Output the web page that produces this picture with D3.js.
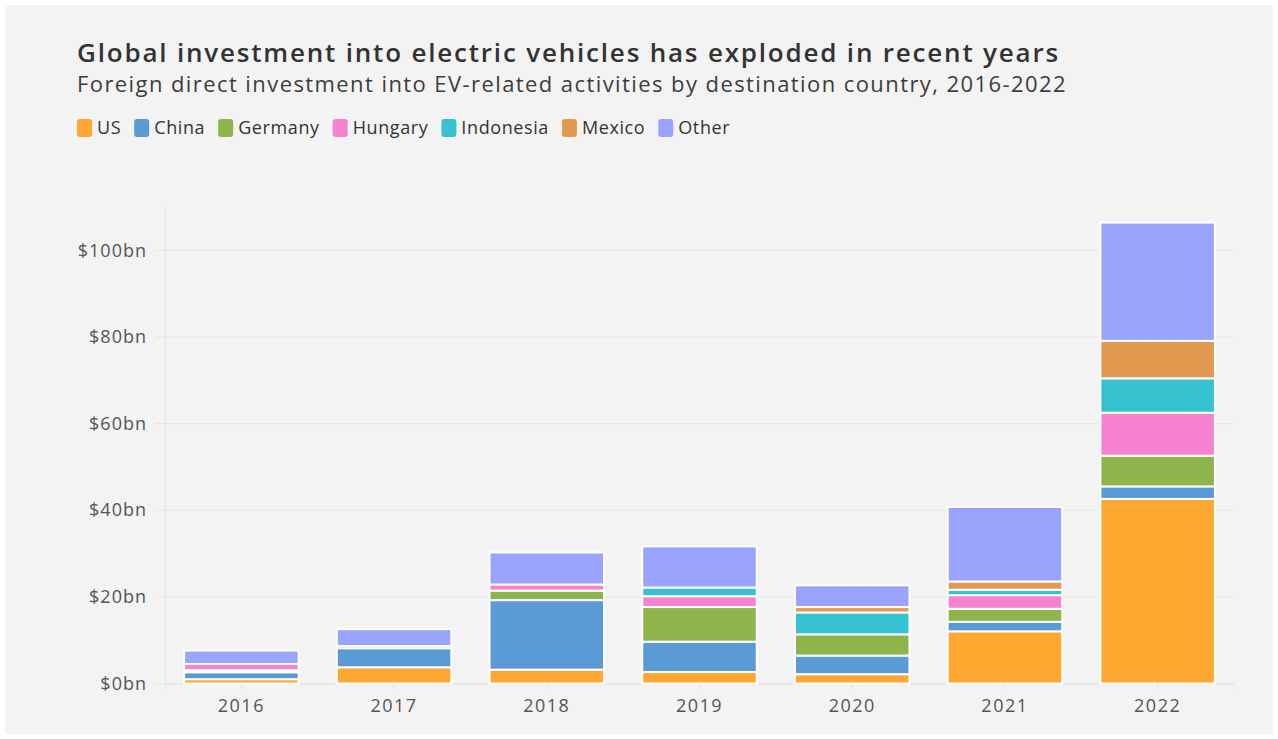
<!DOCTYPE html>
<html>

<head>
    <meta charset="utf-8">
    <title>EV investment</title>
    <script src="https://d3js.org/d3.v7.min.js"></script>
    <style>
        body {
            margin: 0;
            background: #ffffff;
        }

        text {
            font-family: "Open Sans", Arial, sans-serif;
        }
    </style>
</head>

<body>
    <svg width="1278" height="739"></svg>
    <script>
        // Data (US$ bn)
        var years = ["2016", "2017", "2018", "2019", "2020", "2021", "2022"];
        var us = [1.0, 3.75, 3.2, 2.65, 2.15, 12.05, 42.6];
        var china = [1.6, 4.4, 16.05, 7.0, 4.3, 2.2, 2.9];
        var germany = [0.45, 0.5, 2.2, 8.0, 4.9, 3.0, 7.1];
        var hungary = [1.45, 0, 1.4, 2.5, 0, 3.15, 9.9];
        var indonesia = [0, 0, 0, 2.0, 5.05, 1.25, 7.95];
        var mexico = [0, 0, 0, 0, 1.25, 1.9, 8.65];
        var other = [3.1, 3.9, 7.4, 9.5, 5.0, 17.2, 27.3];

        var seriesNames = ["US", "China", "Germany", "Hungary", "Indonesia", "Mexico", "Other"];
        var seriesColors = ["#fea831", "#5b9bd5", "#8fb44b", "#f782d0", "#36c2d0", "#e19a50", "#9aa4fc"];
        var yTicks = [0, 20, 40, 60, 80, 100];

        var seriesValues = [us, china, germany, hungary, indonesia, mexico, other];

        // build rows for the stack
        var rows = years.map(function (y, i) {
            var row = { year: y };
            seriesNames.forEach(function (s, j) { row[s] = seriesValues[j][i]; });
            return row;
        });

        var svg = d3.select("svg");

        // background panel
        svg.append("rect")
            .attr("x", 5).attr("y", 5)
            .attr("width", 1268).attr("height", 729)
            .attr("fill", "#f3f3f3");

        // stretch text to a target width with letter-spacing
        function fitText(sel, w) {
            var len = sel.node().getComputedTextLength();
            var n = sel.text().length;
            sel.attr("letter-spacing", (w - len) / n);
        }

        // Titles
        var title = svg.append("text")
            .attr("x", 77).attr("y", 62)
            .attr("font-size", 26)
            .attr("font-weight", 600)
            .attr("fill", "#333333")
            .text("Global investment into electric vehicles has exploded in recent years");
        fitText(title, 983);

        var subtitle = svg.append("text")
            .attr("x", 77).attr("y", 92)
            .attr("font-size", 22)
            .attr("fill", "#3d3d3d")
            .text("Foreign direct investment into EV-related activities by destination country, 2016-2022");
        fitText(subtitle, 990);

        // Legend
        var legend = svg.append("g").attr("transform", "translate(77,128)");
        var lx = 0;
        seriesNames.forEach(function (s, i) {
            var g = legend.append("g").attr("transform", "translate(" + lx + ",0)");
            g.append("rect")
                .attr("x", 0).attr("y", -9)
                .attr("width", 15).attr("height", 18)
                .attr("rx", 3)
                .attr("fill", seriesColors[i]);
            var t = g.append("text")
                .attr("x", 20).attr("y", 6)
                .attr("font-size", 18)
                .attr("letter-spacing", 0.6)
                .attr("fill", "#333333")
                .text(s);
            lx += 20 + t.node().getComputedTextLength() + 13;
        });

        // Scales
        var x = d3.scaleBand()
            .domain(years)
            .range([165, 1234])
            .paddingInner(0.25)
            .paddingOuter(0.125);

        var y = d3.scaleLinear()
            .domain([0, 110])
            .range([683.5, 207]);

        // gridlines
        svg.append("g")
            .selectAll("line")
            .data(yTicks)
            .enter().append("line")
            .attr("x1", 155).attr("x2", 1234)
            .attr("y1", function (d) { return y(d); })
            .attr("y2", function (d) { return y(d); })
            .attr("stroke", "#e6e6e6")
            .attr("stroke-width", 1);

        // y axis line
        svg.append("line")
            .attr("x1", 165.5).attr("x2", 165.5)
            .attr("y1", y(110)).attr("y2", y(0))
            .attr("stroke", "#e6e6e6");

        // y axis labels
        var yAxis = d3.axisLeft(y)
            .tickValues(yTicks)
            .tickSize(0)
            .tickPadding(0)
            .tickFormat(function (d) { return "$" + d + "bn"; });

        var yg = svg.append("g")
            .attr("transform", "translate(147,0)")
            .call(yAxis);
        yg.select(".domain").remove();
        yg.selectAll("text")
            .attr("font-size", 18)
            .attr("letter-spacing", 1)
            .attr("font-family", "Open Sans, Arial, sans-serif")
            .attr("fill", "#555555");

        // x axis
        var xAxis = d3.axisBottom(x).tickSize(6).tickPadding(10);
        var xg = svg.append("g")
            .attr("transform", "translate(0," + y(0) + ")")
            .call(xAxis);
        xg.select(".domain").attr("stroke", "#e6e6e6");
        xg.selectAll(".tick line").attr("stroke", "#e0e0e0");
        xg.selectAll("text")
            .attr("font-size", 18)
            .attr("letter-spacing", 1.5)
            .attr("font-family", "Open Sans, Arial, sans-serif")
            .attr("fill", "#555555");

        // stacked bars
        var stack = d3.stack().keys(seriesNames)(rows);

        svg.append("g")
            .selectAll("g")
            .data(stack)
            .enter().append("g")
            .attr("fill", function (d, i) { return seriesColors[i]; })
            .selectAll("rect")
            .data(function (d) { return d; })
            .enter().append("rect")
            .attr("x", function (d) { return x(d.data.year); })
            .attr("y", function (d) { return y(d[1]); })
            .attr("width", x.bandwidth())
            .attr("height", function (d) { return y(d[0]) - y(d[1]); })
            .attr("stroke", "#ffffff")
            .attr("stroke-width", 2);
    </script>
</body>

</html>
